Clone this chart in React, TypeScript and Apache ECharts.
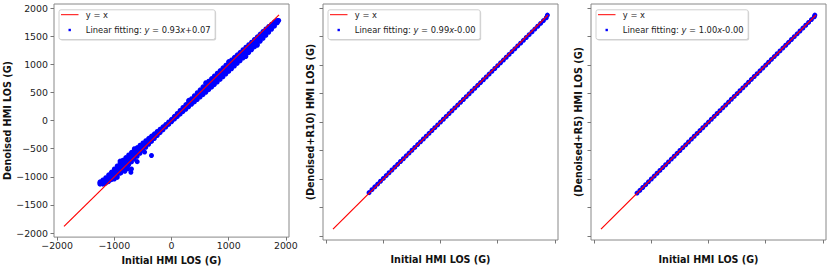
import React, { useEffect, useRef } from 'react';
import * as echarts from 'echarts';

// Initial HMI LOS sample positions (G)
const xs = [-1250,-1200,-1150,-1100,-1050,-1000,-950,-900,-850,-800,-750,-700,-650,-600,-550,-500,-450,-400,-350,-300,-250,-200,-150,-100,-50,0,50,100,150,200,250,300,350,400,450,500,550,600,650,700,750,800,850,900,950,1000,1050,1100,1150,1200,1250,1300,1350,1400,1450,1500,1550,1600,1650,1700,1750,1800,1850];

// Panel 1: Denoised — four tracks across the scatter cloud (upper edge → lower edge)
const den1Up = [-1090,-1055,-1015,-965,-915,-860,-808,-755,-705,-657,-610,-565,-522,-480,-438,-397,-357,-315,-275,-235,-193,-152,-110,-68,-25,22,75,128,180,233,285,338,390,442,495,548,600,655,700,748,795,842,890,938,985,1032,1078,1125,1170,1215,1260,1305,1350,1395,1442,1490,1538,1585,1630,1675,1715,1755,1780];
const den1T1 = [-1103,-1080,-1047,-1005,-960,-912,-867,-815,-765,-716,-668,-622,-576,-532,-485,-441,-396,-351,-307,-263,-217,-173,-128,-84,-39,8,58,109,158,209,257,307,357,405,455,505,554,605,650,697,743,790,837,885,933,980,1026,1073,1119,1165,1211,1257,1303,1350,1398,1447,1495,1544,1592,1640,1685,1730,1767];
const den1T2 = [-1117,-1105,-1078,-1045,-1005,-963,-926,-875,-825,-776,-727,-678,-631,-583,-533,-484,-436,-386,-338,-290,-242,-194,-147,-99,-54,-6,42,89,137,184,230,276,323,369,415,463,508,555,600,646,692,737,785,833,880,927,974,1022,1069,1115,1161,1208,1257,1305,1354,1403,1453,1503,1553,1605,1655,1705,1753];
const den1Low = [-1130,-1130,-1110,-1085,-1050,-1015,-985,-935,-885,-835,-785,-735,-685,-635,-580,-528,-475,-422,-370,-318,-266,-215,-165,-115,-68,-20,25,70,115,160,202,245,290,332,375,420,462,505,550,595,640,685,732,780,828,875,922,970,1018,1065,1112,1160,1210,1260,1310,1360,1410,1462,1515,1570,1625,1680,1740];
const den1Extra: [number, number][] = [[1875,1780],[1830,1745],[-350,-620],[-816,-902],[-710,-920],[-886,-931],[-700,-860],[-600,-730],[-470,-560],[-1000,-1040],[-760,-860],[-950,-1010],[-1180,-1120],[-1240,-1095],[-900,-720],[-650,-500],[600,675],[1000,1050],[300,360],[1300,1140],[1500,1340]];

// Panel 2: Denoised + R10
const r10 = [-1240,-1188,-1139,-1089,-1040,-990,-941,-891,-842,-792,-743,-693,-644,-594,-545,-495,-446,-396,-347,-297,-248,-198,-149,-99,-50,0,50,99,149,198,248,297,347,396,446,495,545,594,644,693,743,792,842,891,941,990,1040,1089,1139,1188,1238,1287,1337,1386,1436,1485,1535,1584,1634,1683,1733,1782,1832];
const r10Extra: [number, number][] = [[1870,1880]];

// Panel 3: Denoised + R5
const r5 = [-1248,-1200,-1150,-1100,-1050,-1000,-950,-900,-850,-800,-750,-700,-650,-600,-550,-500,-450,-400,-350,-300,-250,-200,-150,-100,-50,0,50,100,150,200,250,300,350,400,450,500,550,600,650,700,750,800,850,900,950,1000,1050,1100,1150,1200,1250,1300,1350,1400,1450,1500,1550,1600,1650,1700,1750,1800,1850];
const r5Extra: [number, number][] = [[1860,1880]];

const identityEnds = [-1880, 1880];
const xTicks = [-2000, -1000, 0, 1000, 2000];
const yTicks = [-2000, -1500, -1000, -500, 0, 500, 1000, 1500, 2000];
const yNames = ['Denoised HMI LOS (G)', '(Denoised+R10) HMI LOS (G)', '(Denoised+R5) HMI LOS (G)'];
const xName = 'Initial HMI LOS (G)';
const fitSlope = ['0.93', '0.99', '1.00'];
const fitIntercept = ['+0.07', '-0.00', '-0.00'];

const FONT = 'DejaVu Sans';

function measure(text: string, size: number): number {
  const c = document.createElement('canvas').getContext('2d');
  if (!c) return text.length * size * 0.55;
  c.font = `${size}px "${FONT}"`;
  return c.measureText(text).width;
}

export default function App() {
  const ref = useRef<HTMLDivElement>(null);
  useEffect(() => {
    if (!ref.current) return;
    const chart = echarts.init(ref.current, undefined, { renderer: 'svg' });
    const lefts = [54, 323, 591];
    const gw = 235;
    const gt = 4;
    const gh = 236;
    const yNameGap = [40, 8, 8];

    // legend text size chosen so the first legend line spans ~125px as in the reference
    const probe = 'Linear fitting: y = ' + fitSlope[0] + 'x' + fitIntercept[0];
    const legendFont = Math.max(8, Math.min(10, (10 * 125) / measure(probe, 10)));

    const zip = (a: number[], b: number[]) => a.map((v, i) => [v, b[i]]);
    const scatterData = [
      [...zip(xs, den1Up), ...zip(xs, den1T1), ...zip(xs, den1T2), ...zip(xs, den1Low), ...den1Extra],
      [...zip(xs, r10), ...r10Extra],
      [...zip(xs, r5), ...r5Extra],
    ];
    const fmt = (v: number) => (v < 0 ? '\u2212' + Math.abs(v) : String(v));

    const grids = lefts.map((l) => ({
      left: l, top: gt, width: gw, height: gh, show: true,
      borderColor: '#888', borderWidth: 1, backgroundColor: 'transparent', containLabel: false,
    }));
    const xAxes = lefts.map((_, i) => ({
      type: 'value', gridIndex: i, min: -2055, max: 2055,
      name: xName, nameLocation: 'middle', nameGap: 14,
      nameTextStyle: { fontFamily: FONT, fontSize: 9.6, fontWeight: 'bold', color: '#111' },
      axisLine: { show: false, onZero: false },
      splitLine: { show: false },
      axisTick: { show: true, inside: false, length: 3.5, lineStyle: { color: '#777' }, customValues: xTicks },
      axisLabel: { show: i === 0, margin: 4, fontFamily: FONT, fontSize: 9.4, color: '#222', customValues: xTicks, formatter: fmt },
    }));
    const yAxes = lefts.map((_, i) => ({
      type: 'value', gridIndex: i, min: -2072, max: 2074,
      name: yNames[i], nameLocation: 'middle', nameGap: yNameGap[i], nameRotate: 90,
      nameTextStyle: { fontFamily: FONT, fontSize: 9.6, fontWeight: 'bold', color: '#111' },
      axisLine: { show: false, onZero: false },
      splitLine: { show: false },
      axisTick: { show: true, inside: false, length: 3.5, lineStyle: { color: '#777' }, customValues: yTicks },
      axisLabel: { show: i === 0, margin: 6, fontFamily: FONT, fontSize: 9.4, color: '#222', customValues: yTicks, formatter: fmt },
    }));
    const series: any[] = [];
    lefts.forEach((_, i) => {
      series.push({
        type: 'scatter', name: 'Linear fitting', xAxisIndex: i, yAxisIndex: i,
        data: scatterData[i], symbol: 'circle', symbolSize: 5,
        itemStyle: { color: '#0000ff', opacity: 1 }, z: 2,
      });
      series.push({
        type: 'line', name: 'y = x', xAxisIndex: i, yAxisIndex: i, color: '#ff0000',
        data: identityEnds.map((v) => [v, v]), showSymbol: false, symbol: 'none',
        itemStyle: { color: '#ff0000' },
        lineStyle: { color: '#ff0000', width: 1.2, opacity: 1 }, z: 3,
      });
    });

    const graphic: any[] = [];
    lefts.forEach((l, i) => {
      const bx = l + 4.5;
      const by = 9.3;
      const txt = 'Linear fitting: y = ' + fitSlope[i] + 'x' + fitIntercept[i];
      const bw = 27.3 + measure(txt, legendFont) + 4;
      const bh = 29.7;
      graphic.push({ type: 'rect', left: bx + 1.5, top: by + 1.5, shape: { width: bw, height: bh, r: 2 }, style: { fill: 'rgba(0,0,0,0.18)' }, z: 10 });
      graphic.push({ type: 'rect', left: bx, top: by, shape: { width: bw, height: bh, r: 2 }, style: { fill: '#fff', stroke: '#d0d0d0', lineWidth: 1 }, z: 11 });
      graphic.push({ type: 'line', shape: { x1: bx + 2.5, y1: 14.7, x2: bx + 20, y2: 14.7 }, style: { stroke: '#ff0000', lineWidth: 1 }, z: 12 });
      graphic.push({ type: 'rect', shape: { x: bx + 10, y: 28.8, width: 2.4, height: 2.4 }, style: { fill: '#0000ff' }, z: 12 });
      graphic.push({ type: 'text', x: bx + 27.3, y: 14.7, style: { text: 'y = x', fontFamily: FONT, fontSize: legendFont, fill: '#222', verticalAlign: 'middle' }, z: 12 });
      graphic.push({
        type: 'text', x: bx + 27.3, y: 30,
        style: {
          text: 'Linear fitting: {i|y} = ' + fitSlope[i] + '{i|x}' + fitIntercept[i],
          fontFamily: FONT, fontSize: legendFont, fill: '#222', verticalAlign: 'middle',
          rich: { i: { fontStyle: 'italic', fontFamily: FONT, fontSize: legendFont, fill: '#222' } },
        }, z: 12,
      });
    });

    chart.setOption({
      animation: false,
      backgroundColor: '#fff',
      grid: grids,
      xAxis: xAxes,
      yAxis: yAxes,
      series,
      graphic,
    });
    return () => chart.dispose();
  }, []);
  return <div ref={ref} style={{ width: 830, height: 270, position: 'absolute', left: 0, top: 0 }} />;
}
